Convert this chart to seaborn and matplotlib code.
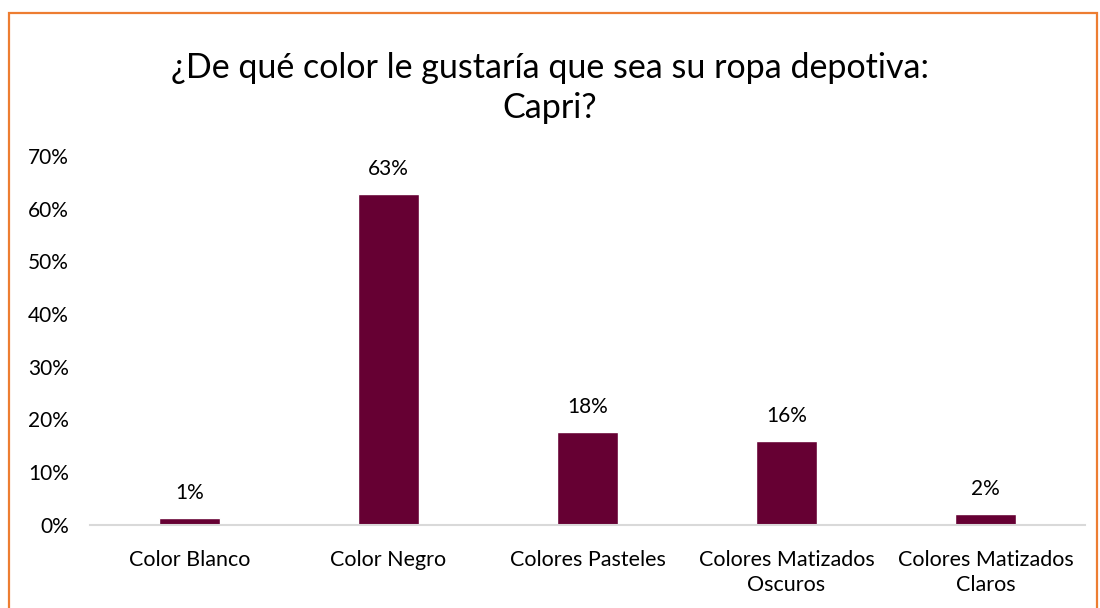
import matplotlib
matplotlib.use("Agg")
import matplotlib.pyplot as plt
import matplotlib.patches as mpatches
from matplotlib.ticker import PercentFormatter, MultipleLocator
import seaborn as sns
import pandas as pd

categories = ["Color Blanco", "Color Negro", "Colores Pasteles",
              "Colores Matizados\nOscuros", "Colores Matizados\nClaros"]
shares = [1.25, 62.8, 17.6, 15.8, 2.0]
title = "¿De qué color le gustaría que sea su ropa depotiva:\nCapri?"

bar_color = "#660033"
border_color = "#ED7D31"

sns.set_theme(style="white")
plt.rcParams["font.family"] = ["Lato", "DejaVu Sans"]

df = pd.DataFrame({"categoria": categories, "porcentaje": shares})

fig = plt.figure(figsize=(11, 6.08), dpi=100)
ax = fig.add_axes([0.0818, 0.1373, 0.9045, 0.6061])

sns.barplot(data=df, x="categoria", y="porcentaje", color=bar_color,
            width=0.31, saturation=1, ax=ax)

ax.set_ylim(0, 70)
ax.yaxis.set_major_locator(MultipleLocator(10))
ax.yaxis.set_major_formatter(PercentFormatter(decimals=0))
ax.set_xlabel("")
ax.set_ylabel("")
ax.tick_params(axis="y", labelsize=15, colors="#000000", length=0, pad=15)
ax.tick_params(axis="x", labelsize=15.5, colors="#000000", length=0, pad=18)
for lbl in ax.get_xticklabels():
    lbl.set_linespacing(1.35)
for side in ("top", "right", "left"):
    ax.spines[side].set_visible(False)
ax.spines["bottom"].set_color("#D9D9D9")
ax.spines["bottom"].set_linewidth(1.5)
ax.grid(False)

for patch, val in zip(ax.patches, shares):
    ax.annotate(f"{val:.0f}%", (patch.get_x() + patch.get_width() / 2, patch.get_height()),
                xytext=(0, 18), textcoords="offset points",
                ha="center", va="center", fontsize=15, color="#000000")

fig.text(0.5, 0.855, title, ha="center", va="center", fontsize=24.5,
         color="#000000", linespacing=1.3)

border = mpatches.Rectangle((8.5 / 1100, -0.05), (1097 - 8.5) / 1100, 1.05 - 13.5 / 608,
                            transform=fig.transFigure, fill=False,
                            edgecolor=border_color, linewidth=1.6)
fig.patches.append(border)

fig.savefig("out.png", dpi=100, facecolor="white")
